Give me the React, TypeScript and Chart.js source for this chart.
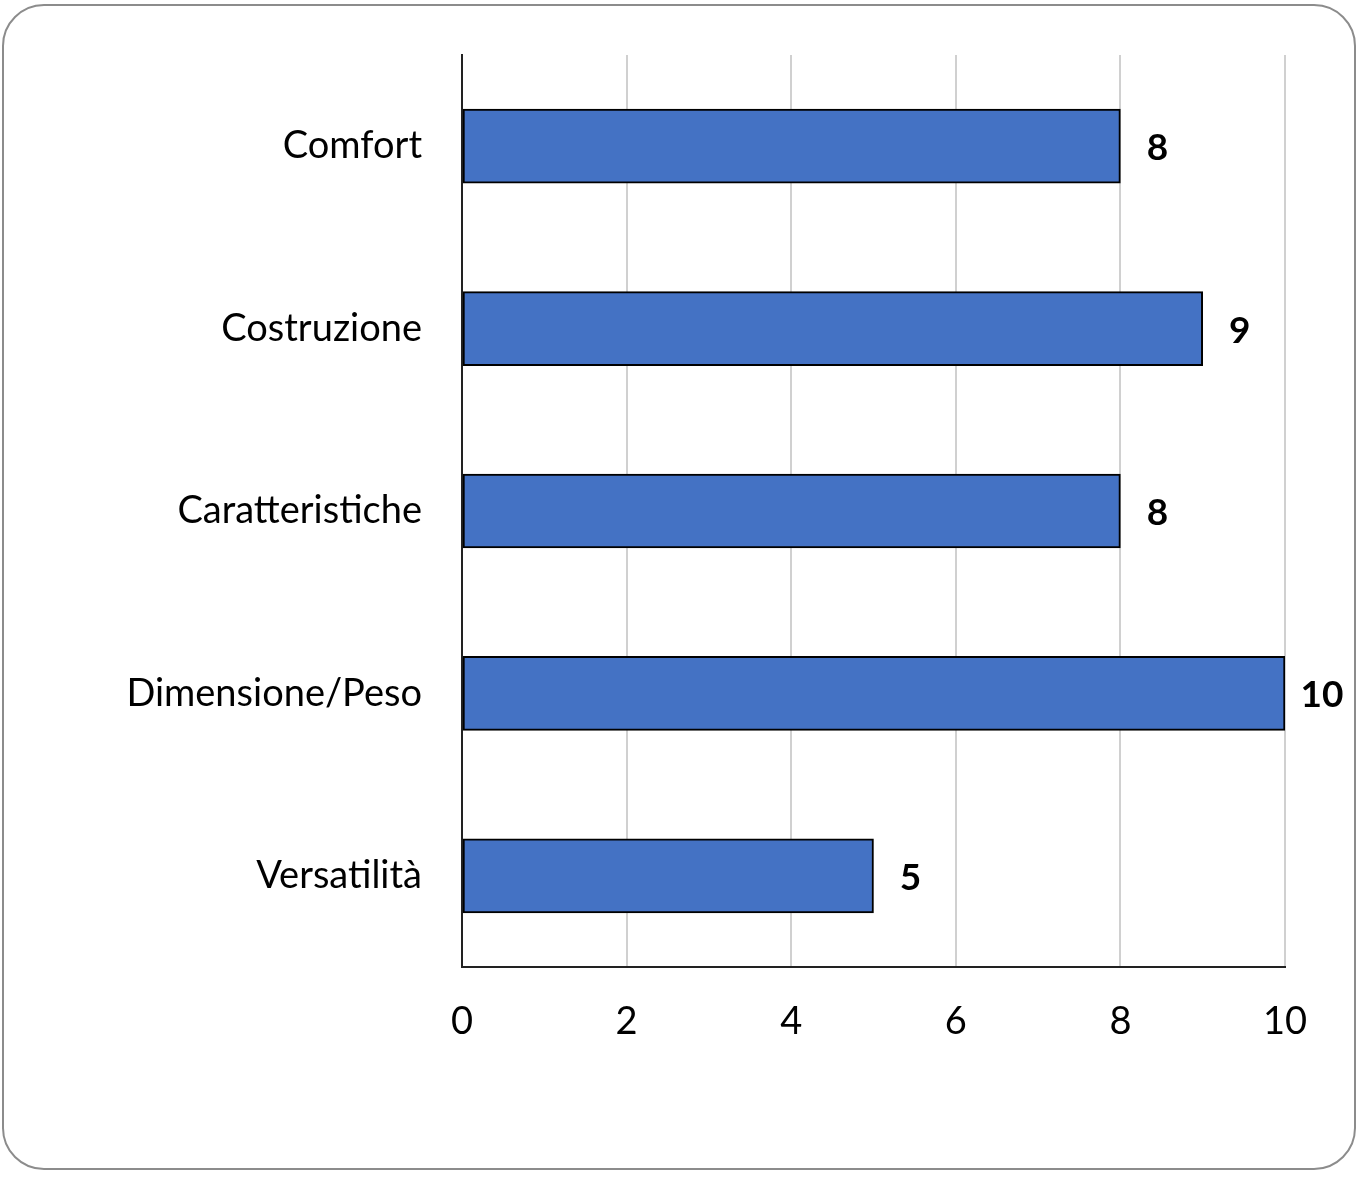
import React, { useEffect, useRef } from "react";
import { Chart, registerables } from "chart.js";

Chart.register(...registerables);

const categories = ["Comfort", "Costruzione", "Caratteristiche", "Dimensione/Peso", "Versatilità"];
const values = [8, 9, 8, 10, 5];
const xTicks = [0, 2, 4, 6, 8, 10];

const FONT = "Lato, 'Open Sans', sans-serif";

const dataLabelPlugin = {
  id: "dataLabels",
  afterDatasetsDraw(chart: any) {
    const ctx = chart.ctx;
    const meta = chart.getDatasetMeta(0);
    ctx.save();
    ctx.font = `bold 37px ${FONT}`;
    ctx.fillStyle = "#000";
    ctx.textAlign = "center";
    ctx.textBaseline = "middle";
    meta.data.forEach((bar: any, i: number) => {
      ctx.fillText(String(values[i]), bar.x + 37, bar.y + 2);
    });
    ctx.restore();
  },
};

export default function App() {
  const ref = useRef<HTMLCanvasElement | null>(null);
  useEffect(() => {
    document.body.style.margin = "0";
    if (!ref.current) return;
    const chart = new Chart(ref.current, {
      type: "bar",
      data: {
        labels: categories,
        datasets: [
          {
            data: values,
            backgroundColor: "#4472C4",
            borderColor: "#000000",
            borderWidth: 2,
            borderSkipped: false,
            barThickness: 74,
          },
        ],
      },
      options: {
        indexAxis: "y",
        responsive: false,
        animation: false,
        layout: { padding: { top: 55, right: 76, left: 0, bottom: 0 } },
        plugins: { legend: { display: false }, tooltip: { enabled: false } },
        scales: {
          x: {
            min: 0,
            max: 10,
            afterBuildTicks(scale: any) {
              scale.ticks = xTicks.map((v) => ({ value: v }));
            },
            afterFit(scale: any) {
              scale.height = 210;
              scale.paddingLeft = 0;
              scale.paddingRight = 0;
            },
            grid: { color: "#d0d0d0", lineWidth: 2, drawTicks: false },
            border: { display: true, color: "#222", width: 2 },
            ticks: { color: "#000", font: { family: FONT, size: 38 }, padding: 32 },
          },
          y: {
            afterFit(scale: any) {
              scale.width = 462;
              scale.paddingTop = 0;
              scale.paddingBottom = 0;
            },
            grid: { display: false, drawTicks: false },
            border: { display: true, color: "#222", width: 2 },
            ticks: { color: "#000", font: { family: FONT, size: 38 }, padding: 40 },
          },
        },
      },
      plugins: [dataLabelPlugin],
    });
    return () => chart.destroy();
  }, []);
  return (
    <div style={{ position: "fixed", left: 0, top: 0, width: 1361, height: 1177, background: "#fff" }}>
      <div
        style={{
          position: "absolute",
          left: 2,
          top: 4,
          width: 1350,
          height: 1162,
          border: "2px solid #8c8c8c",
          borderRadius: 42,
        }}
      />
      <canvas ref={ref} width={1361} height={1177} style={{ position: "absolute", left: 0, top: 0 }} />
    </div>
  );
}
